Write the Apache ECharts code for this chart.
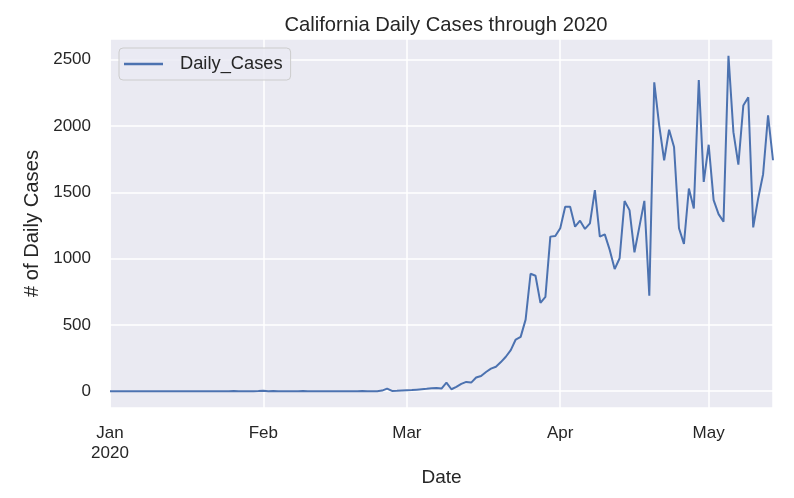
<!DOCTYPE html>
<html>
<head>
<meta charset="utf-8">
<script src="https://cdn.jsdelivr.net/npm/echarts@6/dist/echarts.min.js"></script>
<style>
html,body{margin:0;padding:0;background:#ffffff;}
#chart{width:794px;height:498px;}
</style>
</head>
<body>
<div id="chart"></div>
<script>
// Daily cases, one value per day
const janValues = [0,0,0,0,0,0,0,0,0,0,0,0,0,0,0,0,0,0,0,0,0,0,0,0,0,2,0,0,0,0,1];
const febValues = [3,0,2,0,0,0,0,0,1,0,0,0,0,0,0,0,0,0,0,0,2,0,0,0,5,20,2,3,5];
const marValues = [7,9,12,15,18,22,25,20,65,15,33,55,70,65,103,115,145,170,185,220,260,310,390,410,540,886,871,666,711,1166,1171];
const aprValues = [1229,1391,1391,1241,1286,1224,1266,1517,1166,1183,1066,921,1003,1434,1366,1048,1241,1436,721,2330,2005,1742,1972,1842,1229,1111,1529,1379,2347,1579];
const mayValues = [1859,1441,1336,1279,2530,1954,1709,2155,2217,1236,1454,1637,2080,1742];
const monthNames = ['Jan','Feb','Mar','Apr','May','Jun','Jul','Aug','Sep','Oct','Nov','Dec'];
const seriesName = 'Daily_Cases';
const startDate = Date.UTC(2020, 0, 1);
const endDate = Date.UTC(2020, 4, 14);

const allValues = [].concat(janValues, febValues, marValues, aprValues, mayValues);
const DAY = 86400000;
const seriesData = allValues.map((v, i) => [startDate + i * DAY, v]);

const textColor = '#262626';
const fontFamily = '"Liberation Sans", Arial, sans-serif';

const chart = echarts.init(document.getElementById('chart'), null, {renderer: 'canvas'});
chart.setOption({
  useUTC: true,
  animation: false,
  backgroundColor: '#ffffff',
  title: {
    text: 'California Daily Cases through 2020',
    left: 441,
    top: 10,
    textAlign: 'center',
    textStyle: {color: textColor, fontSize: 20.2, fontWeight: 'normal', fontFamily: fontFamily}
  },
  legend: {
    left: 119,
    top: 48,
    orient: 'vertical',
    data: [{name: seriesName, icon: 'rect'}],
    itemWidth: 39,
    itemHeight: 2.5,
    padding: [7, 8, 7, 5],
    borderColor: '#cccccc',
    borderWidth: 1,
    borderRadius: 4,
    backgroundColor: 'rgba(234,234,242,0.8)',
    textStyle: {color: textColor, fontSize: 18.3, fontFamily: fontFamily, padding: [0, 0, 0, 12]}
  },
  grid: {
    left: 110,
    right: 21,
    top: 39,
    bottom: 90,
    show: true,
    backgroundColor: '#EAEAF2',
    borderWidth: 0
  },
  xAxis: {
    type: 'time',
    min: startDate,
    max: endDate,
    splitNumber: 4,
    name: 'Date',
    nameLocation: 'middle',
    nameGap: 60,
    nameTextStyle: {color: textColor, fontSize: 19, fontFamily: fontFamily},
    axisLine: {show: false},
    axisTick: {show: false},
    splitLine: {show: true, lineStyle: {color: '#ffffff', width: 1.5}},
    axisLabel: {
      color: textColor,
      fontSize: 17,
      fontFamily: fontFamily,
      margin: 16,
      lineHeight: 19.5,
      hideOverlap: false,
      formatter: function (value) {
        const d = new Date(value);
        if (d.getUTCDate() !== 1) return '';
        const m = monthNames[d.getUTCMonth()];
        return d.getUTCMonth() === 0 ? m + '\n' + d.getUTCFullYear() : m;
      }
    }
  },
  yAxis: {
    type: 'value',
    min: -126.5,
    max: 2656.5,
    splitNumber: 5,
    name: '# of Daily Cases',
    nameLocation: 'middle',
    nameGap: 66,
    nameTextStyle: {color: textColor, fontSize: 20.2, fontFamily: fontFamily},
    axisLine: {show: false},
    axisTick: {show: false},
    splitLine: {show: true, lineStyle: {color: '#ffffff', width: 1.5}},
    axisLabel: {
      color: textColor,
      fontSize: 17,
      fontFamily: fontFamily,
      margin: 19,
      showMinLabel: false,
      showMaxLabel: false,
      formatter: function (v) { return (Math.abs(v % 500) < 1e-6) ? String(v) : ''; }
    }
  },
  series: [{
    name: seriesName,
    type: 'line',
    data: seriesData,
    symbol: 'none',
    showSymbol: false,
    lineStyle: {color: '#4C72B0', width: 2},
    itemStyle: {color: '#4C72B0'}
  }]
});
</script>
</body>
</html>
